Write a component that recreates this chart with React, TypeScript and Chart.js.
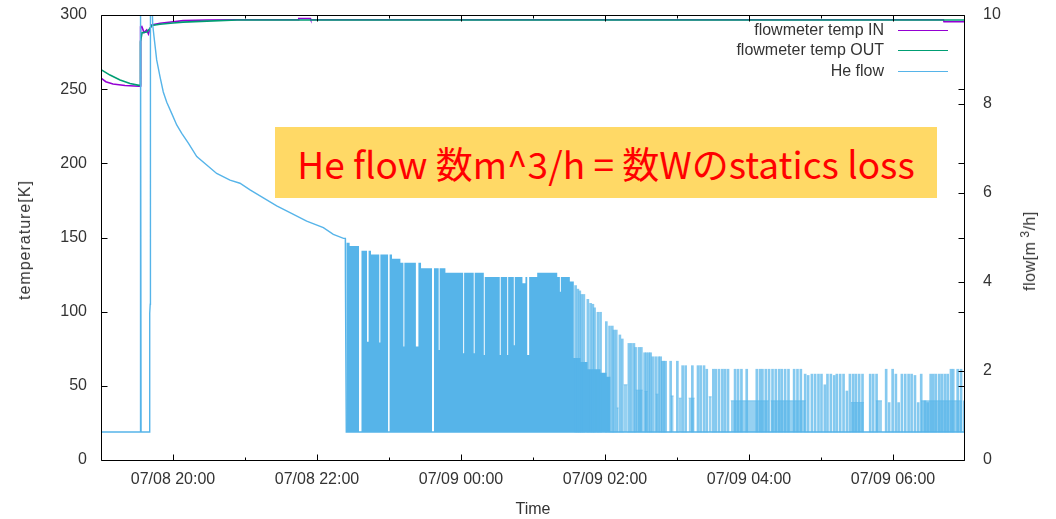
import React, { useEffect, useRef } from "react";
import { Chart, registerables } from "chart.js";

Chart.register(...registerables);

const FONT = "'Liberation Sans', Arial, sans-serif";
const TEXT = "#333333";
const C_IN = "#9400d3";
const C_OUT = "#009e73";
const C_FLOW = "#56b4e9";

// time axis: minutes since 07/08 19:00
const xMin = 0;
const xMax = 720;
const xTickMinutes = [60, 180, 300, 420, 540, 660];
const xTickLabels = ["07/08 20:00", "07/08 22:00", "07/09 00:00", "07/09 02:00", "07/09 04:00", "07/09 06:00"];
const xMinorMinutes = [120, 240, 360, 480, 600];
const seriesNames = ["flowmeter temp IN", "flowmeter temp OUT", "He flow"];

// flowmeter temperature IN [K]
const tempInTime = [0, 4, 10, 20, 31.7, 32.5, 33.0, 34.0, 35.9, 38.1, 39.5, 40.9, 42.3, 49.2, 60.1, 68.4, 88.4, 113.5, 164.4, 164.8, 174.4, 174.8, 702.0, 702.5, 720];
const tempIn = [257.5, 255, 253.5, 252.5, 252, 252, 292, 292.2, 288.2, 289.9, 287.2, 291, 293.3, 294.4, 295.5, 296.2, 296.6, 296.8, 296.8, 297.6, 297.6, 296.8, 296.8, 295.4, 295.4];

// flowmeter temperature OUT [K]
const tempOutTime = [0, 7.5, 15.9, 24.2, 31.7, 32.5, 32.9, 34.2, 38.1, 40.9, 42.3, 49.2, 60.1, 68.4, 88.4, 113.5, 720];
const tempOut = [263.2, 259.5, 256.2, 253.8, 252.6, 252.8, 282, 288, 288.5, 291, 293, 293.8, 294.6, 295.2, 295.9, 296.6, 296.6];

// He flow [m3/h] main trace
const flowTime = [0, 32.5, 32.6, 33.3, 33.4, 40.5, 40.6, 41.0, 41.2, 42.3, 43.1, 44.2, 46.4, 49.2, 51.9, 54.8, 58.9, 63.1, 67.3, 72.8, 79.8, 88.1, 96.4, 107.5, 115.8, 124.2, 135.3, 146.4, 157.5, 171.4, 185.3, 193.6, 202.1, 203.6, 203.7, 204.4, 720];
const flowValue = [0.63, 0.63, 10.5, 10.5, 0.63, 0.63, 3.3, 3.5, 10.5, 10.5, 9.78, 9.51, 8.99, 8.61, 8.27, 8.04, 7.79, 7.53, 7.34, 7.12, 6.82, 6.63, 6.44, 6.29, 6.22, 6.07, 5.89, 5.71, 5.56, 5.37, 5.22, 5.07, 4.98, 4.98, 3.98, 0.63, 0.63];
const flowBaseline = 0.63;

// He flow: upper envelope of the fast oscillation (null = gap)
const denseTime = [204.4, 207.2, 215.1, 215.5, 216.9, 221.7, 223.0, 225.0, 231.9, 232.8, 239.4, 239.8, 240.3, 242.5, 249.5, 252.0, 252.8, 262.4, 264.5, 266.7, 275.9, 276.6, 277.4, 281.4, 282.2, 287.0, 301.8, 302.6, 310.6, 311.4, 319.0, 319.8, 332.3, 333.1, 338.5, 339.3, 344.0, 344.8, 351.2, 353.7, 355.2, 356.8, 363.5, 380.2, 382.4, 383.2, 390.7, 394.0, 399.6, 405.5, 416.3, 421.3, 424.7];
const denseValue = [4.88, 4.81, 4.81, null, 4.70, 2.66, 4.70, 4.62, 2.64, 4.62, 4.62, null, 4.62, 4.52, 4.43, 2.55, 4.43, 2.55, 4.43, 4.31, 4.31, null, 4.31, 2.47, 4.31, 4.21, 2.40, 4.21, 2.40, 4.21, 2.36, 4.11, 2.36, 4.11, 2.36, 4.11, 2.58, 4.11, 3.97, 4.11, 2.36, 4.11, 4.21, 4.11, 3.78, 4.11, 4.01, 2.29, 2.20, 2.04, 1.96, 1.87, 1.87];

// He flow: lower oscillation bands
const bandStart = [429.7, 435.5, 445.5, 453.0, 462.2, 474.7, 481.4, 489.7, 506.4, 524.8, 558.1, 624.9, 645.7, 683.3];
const bandEnd = [431.3, 438.8, 451.4, 455.5, 464.7, 477.2, 483.9, 494.7, 508.9, 556.5, 587.3, 635.7, 650.8, 717.5];
const bandValue = [1.17, 1.69, 1.57, 1.54, 1.48, 1.44, 1.39, 1.39, 1.42, 1.33, 1.33, 1.29, 1.33, 1.33];

// He flow: individual spikes
const spikeTime = [
  395.5, 397.4, 399.0, 400.5, 402.4, 405.7, 408.0, 409.9, 411.3, 414.1,
  416.3, 421.1, 423.8, 426.1, 427.4, 429.4, 432.4, 434.4, 439.9, 441.9,
  444.1, 445.5, 448.3, 450.3, 453.0, 454.7, 456.6, 458.0, 459.7, 462.2,
  464.7, 466.4, 467.8, 469.1, 470.5, 474.7, 480.3, 484.7, 487.2, 492.8,
  497.5, 499.7, 502.5, 504.8, 510.3, 512.3, 515.0, 517.8, 520.0, 522.5,
  528.4, 530.9, 533.7, 538.1, 546.5, 549.2, 551.2, 554.0, 556.7, 559.6,
  562.3, 565.1, 567.3, 570.1, 572.9, 577.6, 580.4, 583.2, 586.8, 589.3,
  592.4, 595.1, 597.9, 600.4, 603.2, 605.4, 608.2, 611.0, 613.2, 616.0,
  618.8, 621.6, 624.1, 626.8, 629.1, 631.8, 634.6, 641.0, 643.5, 646.3,
  654.3, 656.8, 659.7, 662.4, 664.7, 667.4, 670.2, 673.0, 675.5, 678.3,
  681.0, 683.5, 686.6, 688.9, 691.4, 693.6, 695.8, 698.6, 700.8, 703.3,
  705.6, 708.3, 710.2, 713.9, 716.7, 719.4,
];
const spikeValue = [
  3.92, 3.84, 3.80, 3.72, 3.72, 3.61, 3.52, 3.50, 3.42, 3.32,
  3.32, 3.11, 3.01, 3.01, 2.92, 2.92, 2.81, 2.72, 2.62, 2.62,
  2.62, 2.53, 2.53, 2.53, 2.41, 2.41, 2.41, 2.41, 2.32, 2.32,
  2.32, 2.32, 2.22, 2.22, 2.22, 2.22, 2.22, 2.12, 2.12, 2.12,
  2.12, 2.12, 2.12, 2.04, 2.04, 2.04, 2.04, 2.04, 2.04, 2.04,
  2.04, 2.04, 2.04, 2.04, 2.04, 2.04, 2.04, 2.04, 2.04, 2.04,
  2.04, 2.04, 2.04, 2.04, 2.04, 2.04, 2.04, 2.04, 1.93, 1.90,
  1.93, 1.93, 1.93, 1.93, 1.69, 1.93, 1.93, 1.90, 1.93, 1.93,
  1.93, 1.55, 1.93, 1.93, 1.93, 1.93, 1.93, 1.93, 1.93, 1.93,
  2.04, 1.29, 2.04, 1.93, 1.29, 1.93, 1.93, 1.93, 1.93, 1.90,
  1.29, 1.93, 1.33, 1.29, 1.93, 1.93, 1.93, 1.93, 1.93, 1.93,
  1.93, 2.04, 2.04, 2.04, 2.04, 1.33,
];

const annotationText = "He flow 数m^3/h = 数Wのstatics loss";

const framePlugin = {
  id: "gnuplotFrame",
  afterDatasetsDraw(chart: any) {
    const { ctx, chartArea: a, scales } = chart;
    const L = Math.round(a.left) + 0.5;
    const R = Math.round(a.right) - 0.5;
    const T = Math.round(a.top) + 0.5;
    const B = Math.round(a.bottom) + 0.5;
    const major = 6;
    const minor = 3;
    ctx.save();
    ctx.strokeStyle = "#000";
    ctx.lineWidth = 1;
    ctx.beginPath();
    ctx.rect(L, T, R - L, B - T);
    scales.y.ticks.forEach((t: any) => {
      const y = Math.round(scales.y.getPixelForValue(t.value)) + 0.5;
      ctx.moveTo(L, y);
      ctx.lineTo(L + major, y);
      ctx.moveTo(R, y);
      ctx.lineTo(R - major, y);
    });
    scales.y1.ticks.forEach((t: any) => {
      const y = Math.round(scales.y1.getPixelForValue(t.value)) + 0.5;
      ctx.moveTo(R, y);
      ctx.lineTo(R - major, y);
    });
    xTickMinutes.forEach((v) => {
      const x = Math.round(scales.x.getPixelForValue(v)) + 0.5;
      ctx.moveTo(x, B);
      ctx.lineTo(x, B - major);
      ctx.moveTo(x, T);
      ctx.lineTo(x, T + major);
    });
    xMinorMinutes.forEach((v) => {
      const x = Math.round(scales.x.getPixelForValue(v)) + 0.5;
      ctx.moveTo(x, B);
      ctx.lineTo(x, B - minor);
      ctx.moveTo(x, T);
      ctx.lineTo(x, T + minor);
    });
    ctx.stroke();
    ctx.restore();
  },
};

function pts(ts: number[], vs: (number | null)[]) {
  return ts.map((t, i) => ({ x: t, y: vs[i] }));
}

export default function App() {
  const canvasRef = useRef<HTMLCanvasElement>(null);

  useEffect(() => {
    const canvas = canvasRef.current;
    if (!canvas) return;

    const bandPts: { x: number; y: number | null }[] = [];
    bandStart.forEach((s, i) => {
      bandPts.push({ x: s, y: bandValue[i] });
      bandPts.push({ x: bandEnd[i], y: bandValue[i] });
      bandPts.push({ x: bandEnd[i] + 0.05, y: null });
    });

    const spikes = spikeTime.map((t, i) => ({ x: t, y: [flowBaseline, spikeValue[i]] }));

    const tickFont = { family: FONT, size: 16 };

    const chart = new Chart(canvas, {
      type: "line",
      data: {
        datasets: [
          {
            label: seriesNames[2],
            data: pts(flowTime, flowValue),
            borderColor: C_FLOW,
            borderWidth: 1.4,
            pointRadius: 0,
            tension: 0,
            yAxisID: "y1",
            order: 0,
          } as any,
          {
            type: "bar",
            label: "spikes",
            data: spikes,
            backgroundColor: "rgba(86,180,233,0.72)",
            borderWidth: 0,
            barThickness: 2,
            grouped: false,
            yAxisID: "y1",
            order: 1,
          } as any,
          {
            label: "dense",
            data: pts(denseTime, denseValue),
            stepped: true,
            fill: { value: flowBaseline },
            backgroundColor: C_FLOW,
            borderColor: "rgba(0,0,0,0)",
            borderWidth: 1,
            pointRadius: 0,
            spanGaps: false,
            yAxisID: "y1",
            order: 2,
          } as any,
          {
            label: "bands",
            data: bandPts,
            stepped: true,
            fill: { value: flowBaseline },
            backgroundColor: "rgba(86,180,233,0.62)",
            borderColor: "rgba(86,180,233,0.62)",
            borderWidth: 1,
            pointRadius: 0,
            spanGaps: false,
            yAxisID: "y1",
            order: 3,
          } as any,
          {
            label: seriesNames[1],
            data: pts(tempOutTime, tempOut),
            borderColor: C_OUT,
            borderWidth: 1.6,
            pointRadius: 0,
            yAxisID: "y",
            order: 4,
          } as any,
          {
            label: seriesNames[0],
            data: pts(tempInTime, tempIn),
            borderColor: C_IN,
            borderWidth: 1.6,
            pointRadius: 0,
            yAxisID: "y",
            order: 5,
          } as any,
        ],
      },
      options: {
        responsive: false,
        animation: false,
        layout: { padding: { top: 15, left: 0, right: 0, bottom: 0 } },
        plugins: {
          legend: { display: false },
          tooltip: { enabled: false },
        },
        scales: {
          x: {
            type: "linear",
            min: xMin,
            max: xMax,
            offset: false,
            grid: { display: false, drawTicks: false },
            border: { display: false },
            afterBuildTicks: (s: any) => {
              s.ticks = xTickMinutes.map((v) => ({ value: v }));
            },
            afterFit: (s: any) => {
              s.height = 59;
              s.paddingLeft = 0;
              s.paddingRight = 0;
            },
            ticks: {
              autoSkip: false,
              maxRotation: 0,
              padding: 10,
              color: TEXT,
              font: tickFont,
              callback: (_v: any, i: number) => xTickLabels[i],
            },
          },
          y: {
            type: "linear",
            position: "left",
            min: 0,
            max: 300,
            grid: { display: false, drawTicks: false },
            border: { display: false },
            afterFit: (s: any) => {
              s.width = 101;
              s.paddingTop = 0;
              s.paddingBottom = 0;
            },
            ticks: { stepSize: 50, padding: 14, color: TEXT, font: tickFont },
          },
          y1: {
            type: "linear",
            position: "right",
            min: 0,
            max: 10,
            grid: { display: false, drawTicks: false },
            border: { display: false },
            afterFit: (s: any) => {
              s.width = 91;
              s.paddingTop = 0;
              s.paddingBottom = 0;
            },
            ticks: { stepSize: 2, padding: 18, color: TEXT, font: tickFont },
          },
        },
      },
      plugins: [framePlugin],
    } as any);

    return () => chart.destroy();
  }, []);

  const legendColors = [C_IN, C_OUT, C_FLOW];

  return (
    <div
      style={{
        position: "fixed",
        left: 0,
        top: 0,
        width: 1056,
        height: 519,
        background: "#fff",
        fontFamily: FONT,
        color: TEXT,
        overflow: "hidden",
      }}
    >
      <canvas ref={canvasRef} width={1056} height={519} style={{ position: "absolute", left: 0, top: 0 }} />

      {seriesNames.map((name, i) => (
        <div key={name}>
          <div
            style={{
              position: "absolute",
              left: 680,
              width: 204,
              top: 20 + i * 20.3,
              height: 20,
              lineHeight: "20px",
              fontSize: 16,
              textAlign: "right",
              whiteSpace: "nowrap",
            }}
          >
            {name}
          </div>
          <div
            style={{
              position: "absolute",
              left: 898,
              width: 50,
              top: 30 + i * 20.3,
              height: 0,
              borderTop: `1.5px solid ${legendColors[i]}`,
            }}
          />
        </div>
      ))}

      <div
        style={{
          position: "absolute",
          left: 275,
          top: 127,
          width: 662,
          height: 71,
          background: "#FFD966",
          color: "#FF0000",
          display: "flex",
          alignItems: "center",
          justifyContent: "center",
          fontFamily: "'Noto Sans CJK JP', 'Noto Sans', sans-serif",
          fontSize: 37,
          whiteSpace: "nowrap",
        }}
      >
        {annotationText}
      </div>

      <div
        style={{
          position: "absolute",
          left: 25,
          top: 240,
          transform: "translate(-50%, -50%) rotate(-90deg)",
          fontSize: 16,
          letterSpacing: 1,
          whiteSpace: "nowrap",
        }}
      >
        temperature[K]
      </div>

      <div
        style={{
          position: "absolute",
          left: 1030,
          top: 251,
          transform: "translate(-50%, -50%) rotate(-90deg)",
          fontSize: 16,
          letterSpacing: 0.5,
          whiteSpace: "nowrap",
        }}
      >
        flow[m
        <span style={{ fontSize: 12, position: "relative", top: -6, marginLeft: 4 }}>3</span>
        /h]
      </div>

      <div
        style={{
          position: "absolute",
          left: 101,
          width: 864,
          top: 499,
          height: 20,
          lineHeight: "20px",
          fontSize: 16,
          textAlign: "center",
        }}
      >
        Time
      </div>
    </div>
  );
}
